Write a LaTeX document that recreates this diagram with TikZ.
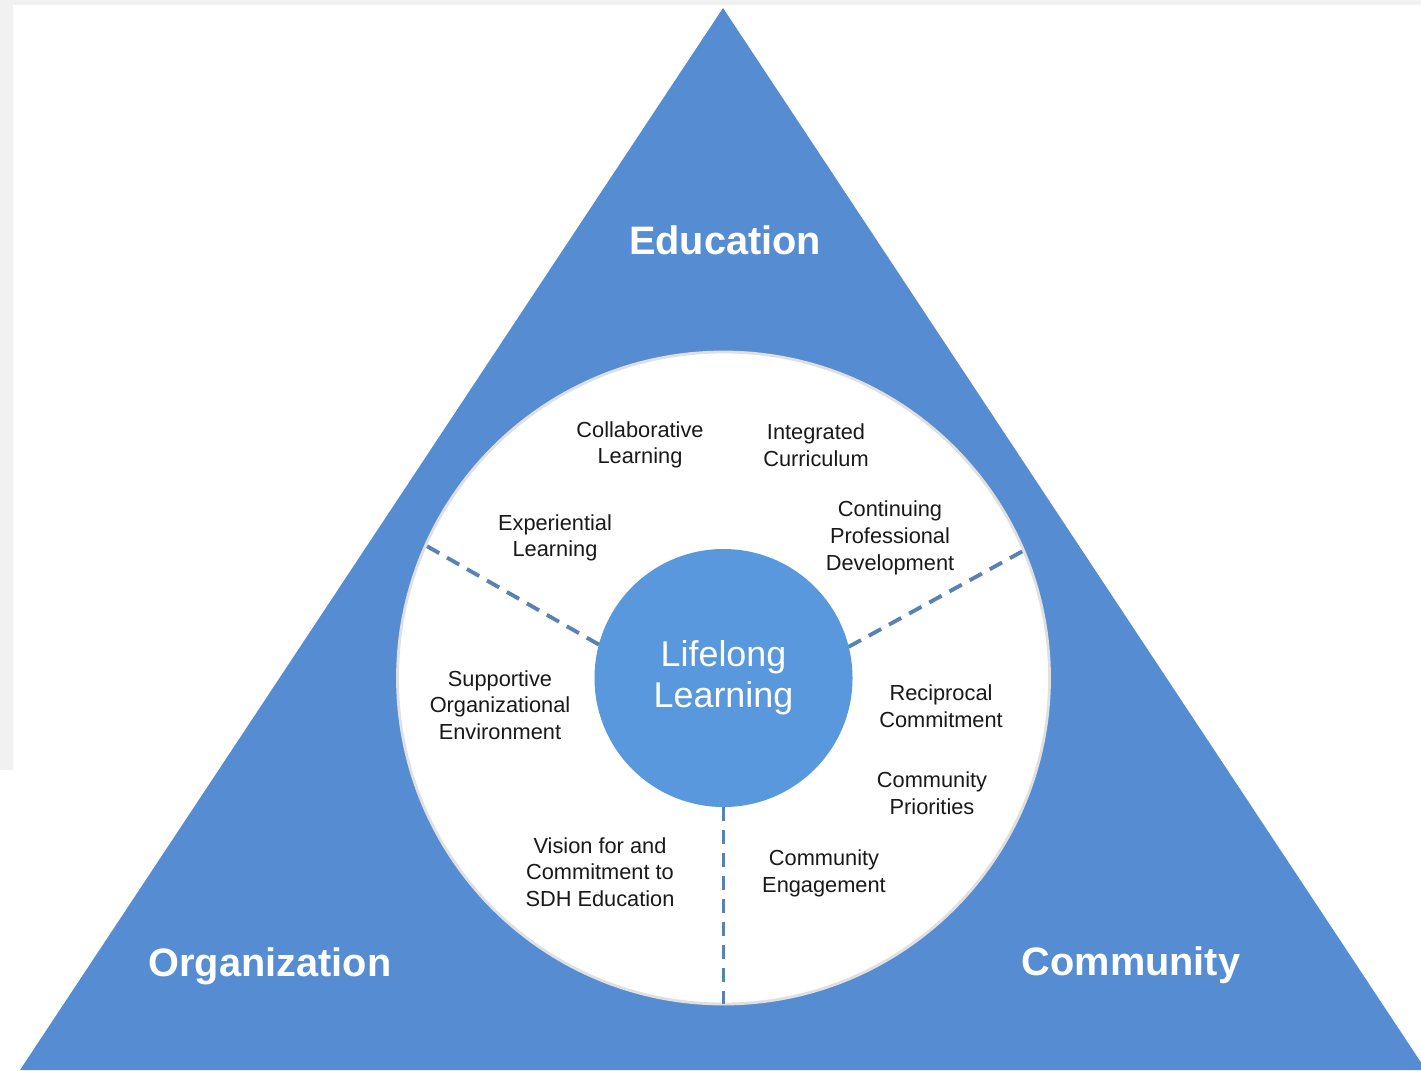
\documentclass[tikz,border=0pt]{standalone}
\usepackage{fontspec}
\setmainfont{Liberation Sans}
\usetikzlibrary{positioning}

\definecolor{triblue}{RGB}{85,140,210}
\definecolor{hubblue}{RGB}{90,152,222}
\definecolor{dashblue}{RGB}{88,130,180}
\definecolor{slidegrey}{RGB}{241,241,241}

\begin{document}
\begin{tikzpicture}[
                corner/.style={text=white, font=\bfseries\fontsize{11.3}{13}\selectfont},
                item/.style={align=center, text=black!90, font=\fontsize{6.2}{7.6}\selectfont},
                divider/.style={draw=dashblue, line width=1.1pt, dash pattern=on 0.14cm off 0.09cm}
                ]
                \useasboundingbox (0,0) rectangle (14.21,10.70);

                % Slide edges behind the figure
                \fill[slidegrey] (0,10.65) rectangle (14.21,10.70);
                \fill[slidegrey] (0,3.00) rectangle (0.13,10.70);

                % Big triangle
                \fill[triblue] (7.23,10.62) -- (0.20,0) -- (14.26,0) -- cycle;

                % Define the circles
                \node (ring) [circle, fill=white, draw=black!12, line width=0.8pt,
                              minimum size=6.52cm, inner sep=0pt, outer sep=0pt] at (7.235,3.92) {};
                \node (hub) [circle, fill=hubblue, minimum size=2.58cm, inner sep=0pt, outer sep=0pt,
                             align=center, text=white, font=\fontsize{10.2}{11.7}\selectfont]
                             at (7.235,3.92) {Lifelong\\Learning};

                % Draw the dividers
                \draw[divider] (hub.165) -- (ring.156);
                \draw[divider] (hub.14) -- (ring.23);
                \draw[divider] (hub.270) -- (ring.270);

                % Corner labels
                \node (edu) [corner] at (7.25,8.30) {Education};
                \node (org) [corner] at (2.70,1.04) {Organization};
                \node (com) [corner] at (11.31,1.05) {Community};

                % Ring labels
                \node (collab) [item] at (6.40,6.25) {Collaborative\\Learning};
                \node (integ) [item] at (8.16,6.25) {Integrated\\Curriculum};
                \node (exper) [item] at (5.55,5.32) {Experiential\\Learning};
                \node (contin) [item] at (8.90,5.32) {Continuing\\Professional\\Development};
                \node (support) [item] at (5.00,3.65) {Supportive\\Organizational\\Environment};
                \node (recip) [item] at (9.41,3.64) {Reciprocal\\Commitment};
                \node (prior) [item] at (9.32,2.77) {Community\\Priorities};
                \node (vision) [item] at (6.00,1.98) {Vision for and\\Commitment to\\SDH Education};
                \node (engage) [item] at (8.24,1.97) {Community\\Engagement};
\end{tikzpicture}
\end{document}
